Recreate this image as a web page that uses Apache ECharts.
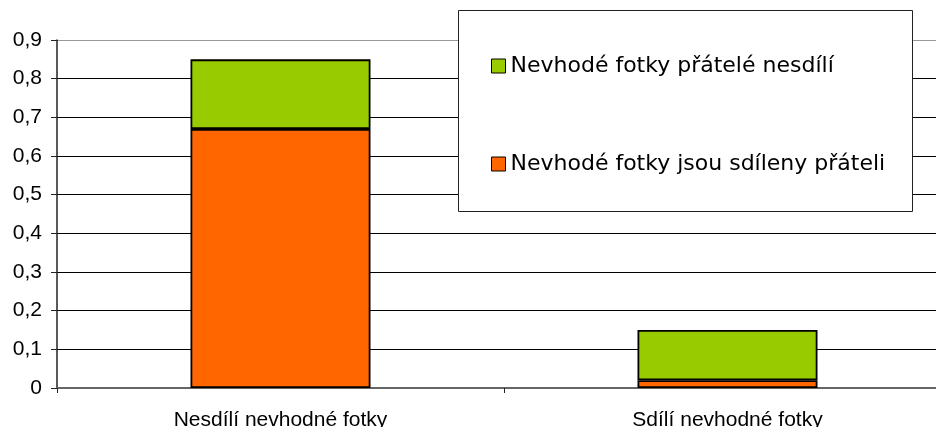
<!DOCTYPE html>
<html><head><meta charset="utf-8">
<script src="https://cdn.jsdelivr.net/npm/echarts@6/dist/echarts.min.js"></script>
<style>html,body{margin:0;padding:0;background:#fff}#c{width:936px;height:427px}</style>
</head><body><div id="c"></div>
<script>
const categories = ['Nesdílí nevhodné fotky', 'Sdílí nevhodné fotky'];
const seriesNames = ['Nevhodé fotky jsou sdíleny přáteli', 'Nevhodé fotky přátelé nesdílí'];
const sharedValues = [0.67, 0.02];
const notSharedValues = [0.18, 0.13];
const yTicks = [0, 0.1, 0.2, 0.3, 0.4, 0.5, 0.6, 0.7, 0.8, 0.9];

const chart = echarts.init(document.getElementById('c'));
const font = 'Liberation Sans, Arial, sans-serif';
chart.setOption({
  animation: false,
  backgroundColor: '#fff',
  grid: { left: 57, top: 40, width: 894, height: 348, containLabel: false, outerBoundsMode: 'none' },
  xAxis: {
    type: 'category', data: categories,
    axisLine: { lineStyle: { color: '#666', width: 2 } },
    axisTick: { show: true, length: 5, lineStyle: { color: '#222' } },
    axisLabel: { fontFamily: font, fontSize: 21, color: '#000', margin: 22 },
    splitLine: { show: false }
  },
  yAxis: {
    type: 'value', min: yTicks[0], max: yTicks[yTicks.length - 1], interval: 0.1,
    axisLine: { show: true, lineStyle: { color: '#222', width: 1.5 } },
    axisTick: { show: true, length: 6, lineStyle: { color: '#222' } },
    axisLabel: { fontFamily: font, fontSize: 21, color: '#000', margin: 15,
      formatter: v => String(Math.round(v * 10) / 10).replace('.', ',') },
    splitLine: { show: true, lineStyle: { color: ['#888','#000','#000','#000','#000','#000','#000','#000','#000','#999'], width: 1.2 } }
  },
  legend: {
    orient: 'vertical', left: 486, top: 49,
    data: [seriesNames[1], seriesNames[0]],
    itemWidth: 14, itemHeight: 14, itemGap: 74,
    icon: 'rect',
    textStyle: { fontFamily: 'DejaVu Sans, sans-serif', fontSize: 22, color: '#000', lineHeight: 24 },
    itemStyle: { borderColor: '#000', borderWidth: 1 }
  },
  graphic: [{
    type: 'rect', z: 1, left: 458, top: 10,
    shape: { width: 454, height: 201 },
    style: { fill: '#fff', stroke: '#222', lineWidth: 1 }
  }],
  series: [
    { name: seriesNames[0], type: 'bar', stack: 's', data: sharedValues, barWidth: 180,
      itemStyle: { color: '#FF6600', borderColor: '#000', borderWidth: 1.8 } },
    { name: seriesNames[1], type: 'bar', stack: 's', data: notSharedValues, barWidth: 180,
      itemStyle: { color: '#99CC00', borderColor: '#000', borderWidth: 1.8 } }
  ]
});
</script></body></html>
